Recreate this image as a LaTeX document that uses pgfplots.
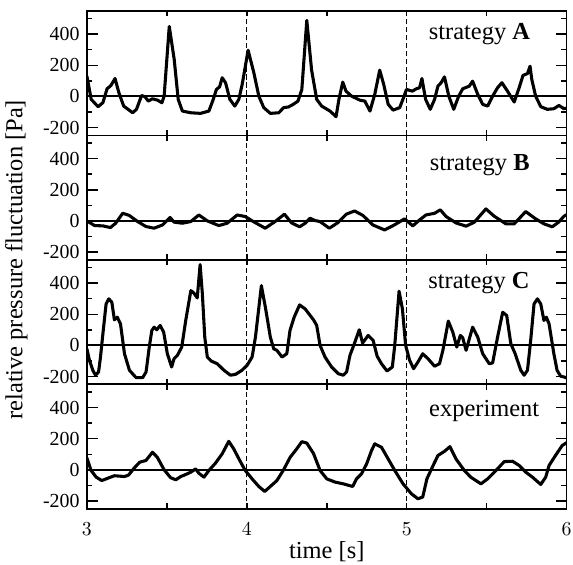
\documentclass[border=0pt]{standalone}
\usepackage{fontspec}
\setmainfont{Liberation Serif}
\usepackage{pgfplots}
\pgfplotsset{compat=1.18}
\usepgfplotslibrary{groupplots}

\pgfplotsset{
  panel/.style={
    xmin=3, xmax=6, ymin=-250, ymax=550,
    xtick={3,4,5,6}, minor xtick={3,3.5,...,6}, major x tick style={draw=none},
    ytick={-200,0,200,400}, yticklabels={-200,0,200,400},
    minor ytick={-100,100,300,500},
    major tick length=6pt, minor tick length=3pt,
    tick style={line width=0.8pt, black},
    axis line style={line width=0.9pt},
    tick label style={font=\fontsize{11}{13}\selectfont},
    yticklabel style={xshift=-0.5pt},
    xticklabel style={yshift=-4pt},
  },
  sig/.style={black, line width=1.7pt, line join=round},
  zero/.style={black, line width=1.1pt},
  vdash/.style={black, line width=0.5pt, dash pattern=on 2.8pt off 1.6pt},
}

\newcommand{\guides}{%
  \addplot[vdash] coordinates {(4,-250) (4,550)};
  \addplot[vdash] coordinates {(5,-250) (5,550)};
  \addplot[zero] coordinates {(3,0) (6,0)};
}

\begin{document}
\begin{tikzpicture}
\begin{groupplot}[
  group style={group size=1 by 4, vertical sep=0pt, xticklabels at=edge bottom},
  width=265pt, height=68.75pt, scale only axis,
  panel,
]
% strategy A
\nextgroupplot
\guides
\addplot[sig] coordinates {
  (3.000,130) (3.027,-19) (3.070,-66) (3.100,-40) (3.126,49) (3.150,70)
  (3.176,115) (3.200,24) (3.230,-62) (3.286,-105) (3.310,-83) (3.342,6)
  (3.363,-2) (3.384,-30) (3.410,-15) (3.442,-24) (3.469,-41) (3.483,2)
  (3.515,450) (3.546,237) (3.571,-19) (3.597,-94) (3.650,-105) (3.710,-109)
  (3.763,-94) (3.790,-19) (3.810,45) (3.830,62) (3.846,120) (3.867,88)
  (3.894,-19) (3.925,-62) (3.950,-19) (3.971,77) (4.008,297) (4.044,152)
  (4.075,2) (4.106,-72) (4.147,-109) (4.200,-105) (4.230,-72) (4.260,-68)
  (4.290,-51) (4.320,-30) (4.344,45) (4.375,489) (4.405,170) (4.437,-19)
  (4.468,-62) (4.520,-94) (4.558,-130) (4.576,-19) (4.600,92) (4.620,34)
  (4.655,2) (4.707,-24) (4.738,-30) (4.770,-94) (4.800,13) (4.831,169)
  (4.856,77) (4.884,-51) (4.915,-88) (4.956,-72) (4.980,-8) (4.998,45)
  (5.035,34) (5.060,49) (5.080,56) (5.095,115) (5.118,-19) (5.147,-83)
  (5.174,-19) (5.195,66) (5.215,88) (5.236,126) (5.263,2) (5.294,-83)
  (5.325,2) (5.350,49) (5.391,66) (5.412,98) (5.444,13) (5.475,-51)
  (5.506,-62) (5.537,2) (5.568,56) (5.595,88) (5.630,34) (5.672,-36)
  (5.703,56) (5.727,135) (5.755,147) (5.771,194) (5.782,109) (5.806,2)
  (5.838,-66) (5.879,-83) (5.920,-79) (5.952,-58) (5.983,-79) (6.000,-75)
};
\node[anchor=base east, font=\fontsize{13.5}{16}\selectfont]
  at (rel axis cs:0.937,0.77) {strategy \textbf{A}};

% strategy B
\nextgroupplot
\guides
\addplot[sig] coordinates {
  (3.000,0) (3.048,-30) (3.100,-32) (3.147,-43) (3.180,-15) (3.224,49)
  (3.265,35) (3.317,-4) (3.369,-36) (3.420,-47) (3.473,-26) (3.520,22)
  (3.545,-8) (3.597,-15) (3.650,-4) (3.700,38) (3.753,0) (3.825,-30)
  (3.877,-15) (3.940,38) (3.990,28) (4.040,-4) (4.115,-47) (4.177,-4)
  (4.235,43) (4.280,-13) (4.330,-38) (4.365,-15) (4.395,17) (4.427,2)
  (4.457,-4) (4.516,-47) (4.570,-11) (4.622,43) (4.674,64) (4.726,35)
  (4.788,-26) (4.861,-58) (4.923,-26) (4.986,13) (5.038,-32) (5.080,6)
  (5.120,38) (5.174,49) (5.210,71) (5.246,28) (5.308,-13) (5.371,-34)
  (5.423,-8) (5.495,77) (5.547,30) (5.620,-19) (5.672,-19) (5.744,60)
  (5.806,13) (5.858,-19) (5.910,-38) (5.950,-8) (5.983,30) (6.000,40)
};
\node[anchor=base east, font=\fontsize{13.5}{16}\selectfont]
  at (rel axis cs:0.936,0.714) {strategy \textbf{B}};

% strategy C
\nextgroupplot
\guides
\addplot[sig] coordinates {
  (3.000,-22) (3.016,-96) (3.037,-160) (3.054,-192) (3.073,-171) (3.085,-75)
  (3.100,74) (3.120,266) (3.137,299) (3.156,277) (3.172,164) (3.190,181)
  (3.210,138) (3.235,-54) (3.266,-160) (3.307,-207) (3.349,-207) (3.370,-171)
  (3.390,-11) (3.406,96) (3.421,117) (3.437,100) (3.458,128) (3.480,85)
  (3.503,-54) (3.530,-139) (3.545,-86) (3.566,-64) (3.593,-11) (3.618,160)
  (3.650,352) (3.670,335) (3.690,305) (3.708,519) (3.722,331) (3.737,53)
  (3.753,-75) (3.778,-101) (3.815,-118) (3.857,-160) (3.898,-192) (3.930,-186)
  (3.970,-160) (4.002,-128) (4.033,-75) (4.054,53) (4.091,384) (4.116,245)
  (4.147,53) (4.168,-22) (4.188,-32) (4.220,-75) (4.250,-54) (4.270,96)
  (4.296,181) (4.330,260) (4.365,234) (4.417,164) (4.437,128) (4.458,0)
  (4.489,-75) (4.530,-139) (4.572,-182) (4.603,-192) (4.624,-171) (4.645,-64)
  (4.676,21) (4.703,100) (4.724,15) (4.759,64) (4.790,32) (4.815,-70)
  (4.842,-118) (4.877,-165) (4.910,-139) (4.925,0) (4.952,348) (4.973,234)
  (4.993,0) (5.018,-96) (5.043,-150) (5.070,-107) (5.100,-54) (5.133,-86)
  (5.174,-134) (5.205,-118) (5.226,-32) (5.260,156) (5.288,85) (5.313,-11)
  (5.335,64) (5.350,49) (5.371,-32) (5.412,117) (5.444,53) (5.475,-54)
  (5.516,-118) (5.537,-113) (5.568,53) (5.600,213) (5.625,192) (5.651,10)
  (5.678,-54) (5.713,-160) (5.734,-192) (5.755,-160) (5.775,32) (5.796,266)
  (5.817,299) (5.838,266) (5.858,160) (5.873,181) (5.890,138) (5.920,-54)
  (5.940,-160) (5.962,-198) (5.983,-203) (6.000,-210)
};
\node[anchor=base east, font=\fontsize{13.5}{16}\selectfont]
  at (rel axis cs:0.936,0.766) {strategy \textbf{C}};

% experiment
\nextgroupplot[xlabel={time [s]},
  xlabel style={font=\fontsize{13.5}{16}\selectfont, yshift=3.5pt}]
\guides
\addplot[sig] coordinates {
  (3.000,77) (3.026,-4) (3.058,-47) (3.093,-69) (3.131,-54) (3.172,-38)
  (3.235,-43) (3.260,-34) (3.297,13) (3.330,49) (3.369,60) (3.410,113)
  (3.440,81) (3.483,0) (3.524,-51) (3.556,-64) (3.587,-43) (3.618,-30)
  (3.650,-15) (3.680,6) (3.700,-22) (3.732,-47) (3.763,-4) (3.804,43)
  (3.846,103) (3.887,183) (3.918,135) (3.956,60) (3.990,-4) (4.033,-58)
  (4.075,-107) (4.112,-139) (4.147,-107) (4.188,-69) (4.230,0) (4.270,79)
  (4.313,136) (4.344,181) (4.375,172) (4.417,105) (4.458,-4) (4.500,-58)
  (4.552,-79) (4.603,-90) (4.662,-107) (4.686,-58) (4.717,-26) (4.749,38)
  (4.780,124) (4.800,167) (4.842,145) (4.884,70) (4.925,-4) (4.977,-90)
  (5.029,-154) (5.070,-186) (5.100,-175) (5.126,-58) (5.160,17) (5.195,92)
  (5.236,119) (5.270,149) (5.308,70) (5.360,-4) (5.400,-47) (5.464,-90)
  (5.506,-58) (5.558,-4) (5.610,53) (5.662,55) (5.703,28) (5.744,-15)
  (5.786,-47) (5.838,-94) (5.869,-47) (5.890,28) (5.930,92) (5.972,156)
  (6.000,175)
};
\node[anchor=base east, font=\fontsize{13.5}{16}\selectfont]
  at (rel axis cs:0.956,0.744) {experiment};
\end{groupplot}
\node[rotate=90, font=\fontsize{13.5}{16}\selectfont]
  at ([xshift=-39pt]group c1r2.south west) {relative pressure fluctuation [Pa]};
\pgfresetboundingbox
\path[use as bounding box] ([xshift=-48pt, yshift=6pt]group c1r1.north west)
      rectangle ([xshift=3.5pt, yshift=-31pt]group c1r4.south east);
\end{tikzpicture}
\end{document}
